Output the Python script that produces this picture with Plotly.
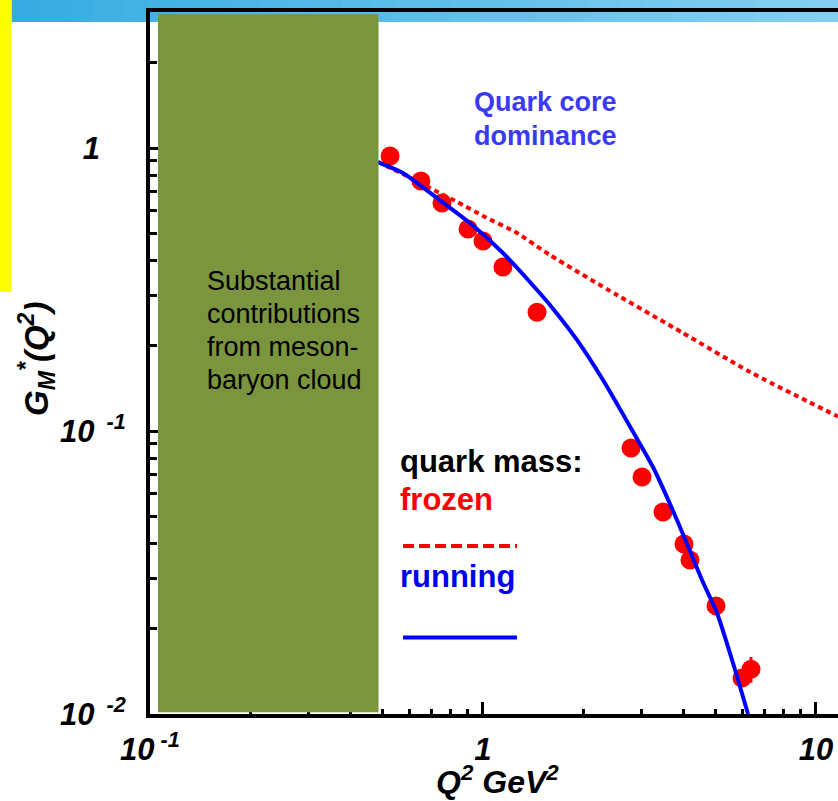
import plotly.graph_objects as go

# ---------------- data ----------------
q2_data = [0.526, 0.651, 0.753, 0.902, 1.00, 1.148, 1.453, 2.783, 3.003,
           3.472, 4.014, 4.184, 5.008, 5.995, 6.379]
gm_data = [0.937, 0.764, 0.639, 0.517, 0.469, 0.380, 0.263, 0.0871, 0.0688,
           0.0517, 0.0399, 0.0350, 0.0241, 0.0134, 0.0144]
gm_err = [0, 0, 0, 0, 0, 0, 0, 0, 0, 0, 0, 0, 0, 0, 0.0015]

q2_running = [0.484, 0.575, 0.727, 0.914, 1.148, 1.453, 1.589, 1.915, 2.293,
              2.802, 3.239, 3.824, 4.546, 5.043, 5.634, 6.249]
gm_running = [0.892, 0.816, 0.666, 0.543, 0.4256, 0.315, 0.2788, 0.2098, 0.1514,
              0.1008, 0.0746, 0.0485, 0.02976, 0.02275, 0.01514, 0.0100]

q2_frozen = [0.484, 0.575, 0.693, 0.835, 1.014, 1.265, 1.589, 2.526, 3.987,
             6.337, 11.64]
gm_frozen = [0.892, 0.809, 0.722, 0.645, 0.5706, 0.5008, 0.4186, 0.3024, 0.2220,
             0.1616, 0.1125]

x_tickvals = [0.1, 1, 10]
x_ticktext = ["10<sup>&nbsp;-1</sup>", "1", "10"]
y_tickvals = [0.01, 0.1, 1]
y_ticktext = ["10<sup>&nbsp;&nbsp;-2</sup>", "10<sup>&nbsp;&nbsp;-1</sup>", "1&nbsp;&nbsp;&nbsp;"]
x_minor = [0.2, 0.3, 0.4, 0.5, 0.6, 0.7, 0.8, 0.9, 2, 3, 4, 5, 6, 7, 8, 9]
y_minor = [0.02, 0.03, 0.04, 0.05, 0.06, 0.07, 0.08, 0.09,
           0.2, 0.3, 0.4, 0.5, 0.6, 0.7, 0.8, 0.9, 2, 3]

cloud_lines = ["Substantial", "contributions", "from meson-", "baryon cloud"]
core_lines = ["Quark core", "dominance"]
x_title = "Q<sup>2</sup> GeV<sup>2</sup>"
y_title = "G<sub>M</sub><sup>*</sup>(Q<sup>2</sup>)"

# ---------------- layout helpers ----------------
FONT = "Liberation Sans, Arial, sans-serif"
WIDTH, HEIGHT = 838, 801
L, T, W, H = 150, 12, 688, 702


def px(x):
    return (x - L) / W


def py(y):
    return (T + H - y) / H


fig = go.Figure()

fig.add_trace(go.Scatter(
    x=q2_data, y=gm_data, mode="markers",
    marker=dict(size=19, color="#FF0000"),
    error_y=dict(type="data", array=gm_err, color="#FF0000", thickness=3, width=0),
    showlegend=False, hoverinfo="skip"))
fig.add_trace(go.Scatter(
    x=q2_frozen, y=gm_frozen, mode="lines",
    line=dict(color="#FF0000", width=4, dash="5px,4px", shape="spline", smoothing=0.6),
    showlegend=False, hoverinfo="skip"))
fig.add_trace(go.Scatter(
    x=q2_running, y=gm_running, mode="lines",
    line=dict(color="#0000FF", width=4, shape="spline", smoothing=0.6),
    showlegend=False, hoverinfo="skip"))

shapes = []
# slide header band (gradient approximated by stripes)
n = 30
x_start, x_end = 11.5, 838
c0, c1 = (56, 172, 226), (132, 207, 240)
for i in range(n):
    t = i / (n - 1)
    col = tuple(round(c0[k] + (c1[k] - c0[k]) * t) for k in range(3))
    xa = x_start + (x_end - x_start) * i / n
    xb = x_start + (x_end - x_start) * (i + 1) / n + 0.6
    shapes.append(dict(type="rect", xref="paper", yref="paper",
                       x0=px(xa), x1=px(xb), y0=py(22), y1=py(0),
                       fillcolor="rgb(%d,%d,%d)" % col, line=dict(width=0), layer="below"))
# yellow side bar
shapes.append(dict(type="rect", xref="paper", yref="paper",
                   x0=px(0), x1=px(11.5), y0=py(292), y1=py(0),
                   fillcolor="#FFFF00", line=dict(width=0), layer="below"))
# meson-baryon cloud region
shapes.append(dict(type="rect", xref="paper", yref="paper",
                   x0=px(158), x1=px(378.5), y0=py(712.3), y1=py(14.3),
                   fillcolor="#7A953D", line=dict(width=0), layer="above"))
# legend samples
shapes.append(dict(type="line", xref="paper", yref="paper",
                   x0=px(403), x1=px(517), y0=py(546), y1=py(546),
                   line=dict(color="#FF0000", width=4, dash="11px,5px")))
shapes.append(dict(type="line", xref="paper", yref="paper",
                   x0=px(403), x1=px(517), y0=py(637.5), y1=py(637.5),
                   line=dict(color="#0000FF", width=4)))

ann = []
for i, s in enumerate(cloud_lines):
    ann.append(dict(text=s, xref="paper", yref="paper", x=px(205), y=py(280.6 + 33.0 * i),
                    xanchor="left", yanchor="middle", showarrow=False,
                    font=dict(family=FONT, size=27, color="#000000")))
for i, s in enumerate(core_lines):
    ann.append(dict(text=s, xref="paper", yref="paper", x=px(472), y=py(101.7 + 34.3 * i),
                    xanchor="left", yanchor="middle", showarrow=False,
                    font=dict(family=FONT, size=27, color="#3A3AF2", weight="bold")))
ann.append(dict(text="quark mass:", xref="paper", yref="paper", x=px(398), y=py(461.5),
                xanchor="left", yanchor="middle", showarrow=False,
                font=dict(family=FONT, size=31, color="#000000", weight="bold")))
ann.append(dict(text="frozen", xref="paper", yref="paper", x=px(398), y=py(499),
                xanchor="left", yanchor="middle", showarrow=False,
                font=dict(family=FONT, size=31, color="#FF0000", weight="bold")))
ann.append(dict(text="running", xref="paper", yref="paper", x=px(398), y=py(576.5),
                xanchor="left", yanchor="middle", showarrow=False,
                font=dict(family=FONT, size=31, color="#0000F0", weight="bold")))
ann.append(dict(text=x_title, xref="paper", yref="paper", x=px(497), y=py(780),
                xanchor="center", yanchor="middle", showarrow=False,
                font=dict(family=FONT, size=32, color="#000000", weight="bold", style="italic")))
ann.append(dict(text=y_title, xref="paper", yref="paper", x=px(36), y=py(359),
                xanchor="center", yanchor="middle", showarrow=False, textangle=-90,
                font=dict(family=FONT, size=33, color="#000000", weight="bold", style="italic")))

tickfont = dict(family=FONT, size=31, color="#000000", weight="bold", style="italic")

fig.update_layout(
    width=WIDTH, height=HEIGHT, autosize=False,
    margin=dict(l=L, r=WIDTH - L - W, t=T, b=HEIGHT - T - H, pad=0),
    paper_bgcolor="white", plot_bgcolor="white",
    shapes=shapes, annotations=ann, showlegend=False,
    xaxis=dict(type="log", range=[-1, 1.0661], showline=True, linewidth=4, linecolor="black",
               mirror=True, ticks="inside", ticklen=12, tickwidth=3, tickcolor="black",
               tickmode="array", tickvals=x_tickvals, ticktext=x_ticktext, tickfont=tickfont,
               ticklabelstandoff=5, showgrid=False, zeroline=False,
               minor=dict(ticks="inside", ticklen=5, tickwidth=3, tickcolor="black",
                          tickmode="array", tickvals=x_minor, showgrid=False)),
    yaxis=dict(type="log", range=[-2, 0.4806], showline=True, linewidth=4, linecolor="black",
               mirror=False, ticks="inside", ticklen=12, tickwidth=3, tickcolor="black",
               tickmode="array", tickvals=y_tickvals, ticktext=y_ticktext, tickfont=tickfont,
               ticklabelstandoff=14, showgrid=False, zeroline=False,
               minor=dict(ticks="inside", ticklen=7, tickwidth=3, tickcolor="black",
                          tickmode="array", tickvals=y_minor, showgrid=False)),
)

fig.write_html("out.html", config={"displayModeBar": False},
               post_script="document.body.style.margin='0';")
